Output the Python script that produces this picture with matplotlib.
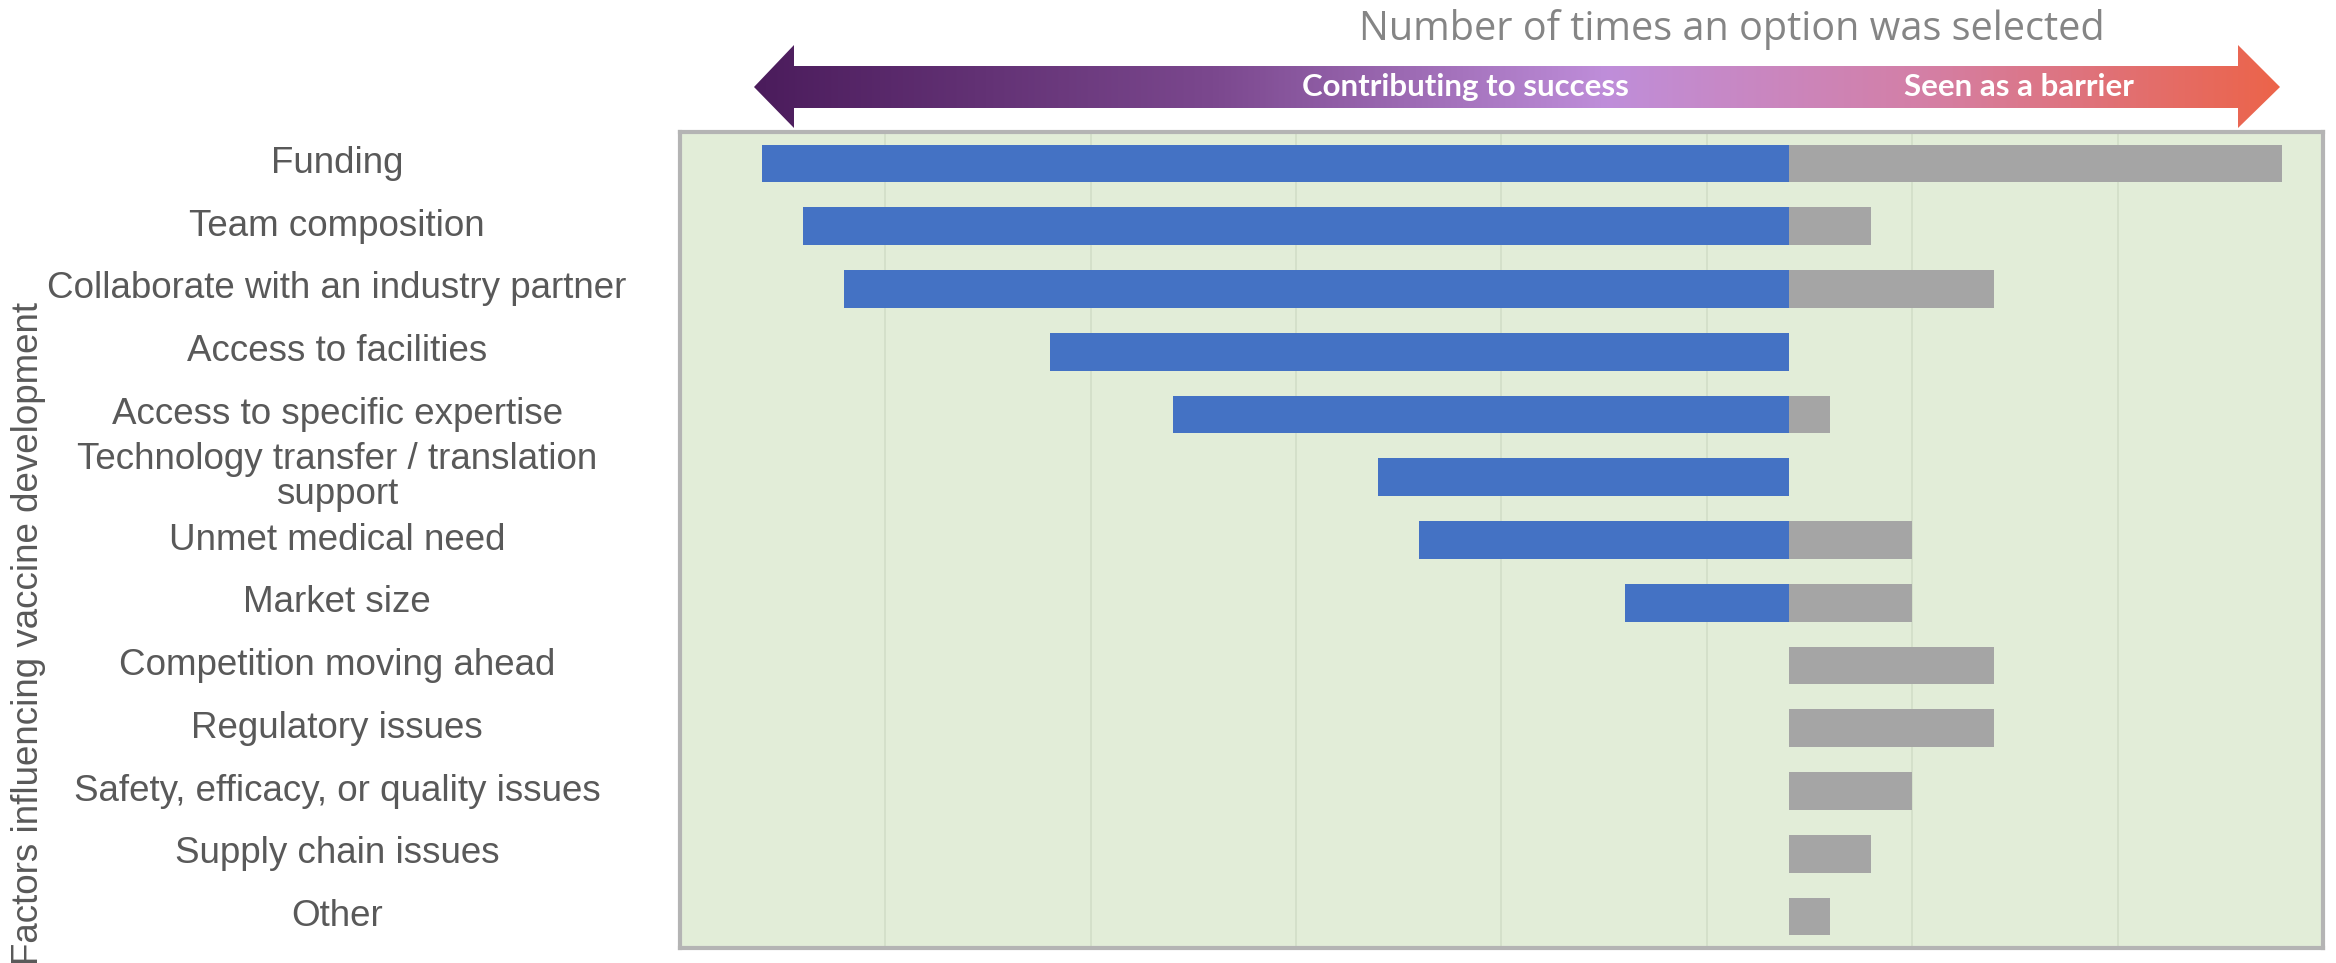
import numpy as np
import matplotlib
matplotlib.use("Agg")
import matplotlib.pyplot as plt
from matplotlib.colors import LinearSegmentedColormap
from matplotlib.patches import Polygon
from matplotlib.transforms import blended_transform_factory

factors = [
    "Funding",
    "Team composition",
    "Collaborate with an industry partner",
    "Access to facilities",
    "Access to specific expertise",
    "Technology transfer / translation\nsupport",
    "Unmet medical need",
    "Market size",
    "Competition moving ahead",
    "Regulatory issues",
    "Safety, efficacy, or quality issues",
    "Supply chain issues",
    "Other",
]
contributing = [25, 24, 23, 18, 15, 10, 9, 4, 0, 0, 0, 0, 0]
barrier = [12, 2, 5, 0, 1, 0, 3, 3, 5, 5, 3, 2, 1]

W, H = 2336, 963
fig = plt.figure(figsize=(W / 100, H / 100), dpi=100)

ax = fig.add_axes([0.2911, 0.0156, 0.7033, 0.8473])
ax.set_facecolor("#E2EDD8")
y = np.arange(len(factors))
ax.barh(y, [-v for v in contributing], height=0.6, color="#4472C4", zorder=3)
ax.barh(y, barrier, height=0.6, color="#A5A5A5", zorder=3)
ax.set_xlim(-27, 13)
ax.set_ylim(len(factors) - 0.5, -0.5)
ax.set_xticks(np.arange(-27, 14, 5))
ax.set_yticks([])
ax.grid(axis="x", color="#D2DEC8", lw=1.2, zorder=0)
ax.tick_params(length=0, labelbottom=False)
for s in ax.spines.values():
    s.set_color("#B4B4B4")
    s.set_linewidth(3)

# category labels centred in the left margin
trans = blended_transform_factory(fig.transFigure, ax.transData)
for i, name in enumerate(factors):
    ax.text(0.1443, i, name, transform=trans, ha="center", va="center",
            fontsize=26.5, color="#595959", family="Liberation Sans",
            linespacing=1.0)

fig.text(0.012, 0.342, "Factors influencing vaccine development", rotation=90,
         ha="center", va="center", fontsize=26.5, color="#595959",
         family="Liberation Sans")

# overlay in pixel units for the gradient arrow and header text
oax = fig.add_axes([0, 0, 1, 1], zorder=5)
oax.set_xlim(0, W)
oax.set_ylim(H, 0)
oax.axis("off")

x0, x1, hb0, hb1 = 754, 2280, 794, 2238
yc, s_top, s_bot, h_top, h_bot = 87, 66, 108, 45, 128
arrow = Polygon([(x0, yc), (hb0, h_top), (hb0, s_top), (hb1, s_top), (hb1, h_top),
                 (x1, yc), (hb1, h_bot), (hb1, s_bot), (hb0, s_bot), (hb0, h_bot)],
                closed=True, fc="none", ec="none")
oax.add_patch(arrow)
cmap = LinearSegmentedColormap.from_list("arrow", [
    (0.0, "#4B1C5C"), (0.3, "#7B488E"), (0.56, "#BF8EDA"),
    (0.77, "#D47FA5"), (1.0, "#EC644A")])
grad = np.linspace(0, 1, 512).reshape(1, -1)
img = oax.imshow(grad, extent=(x0, x1, h_bot, h_top), cmap=cmap, aspect="auto")
img.set_clip_path(arrow)

oax.text(1465, yc, "Contributing to success", color="white", fontsize=22.5,
         weight="bold", family="Lato", ha="center", va="center")
oax.text(2019, yc, "Seen as a barrier", color="white", fontsize=22.5,
         weight="bold", family="Lato", ha="center", va="center")
oax.text(1732, 29, "Number of times an option was selected", color="#858585",
         fontsize=28.5, family="Open Sans", ha="center", va="center")

fig.savefig("out.png", dpi=100)
